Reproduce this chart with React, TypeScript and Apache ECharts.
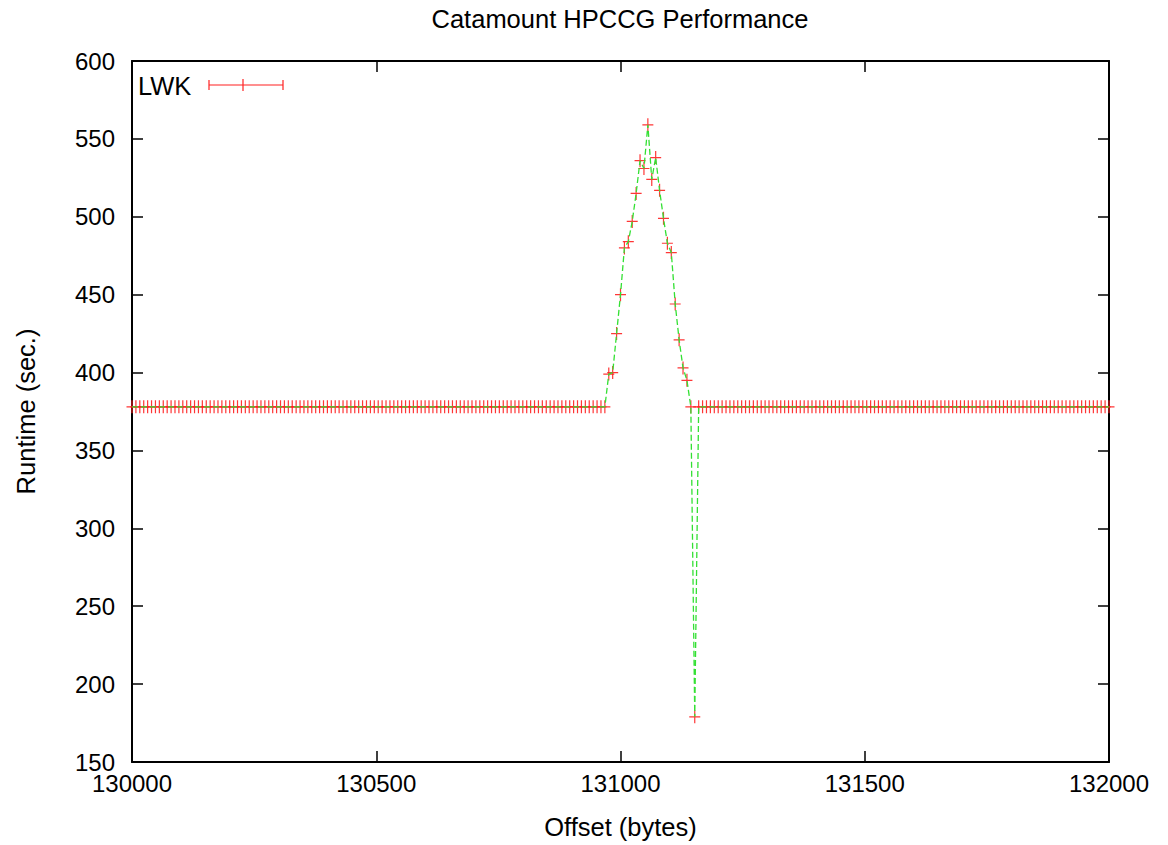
import React, { useEffect, useRef } from "react";
import * as echarts from "echarts";

// ---- data ----
const titleText = "Catamount HPCCG Performance";
const xAxisName = "Offset (bytes)";
const yAxisName = "Runtime (sec.)";
const seriesName = "LWK";

// flat baseline runs: offsets sampled every 8 bytes, runtime read as ~378 s
const baselineRuns = [
  { start: 130000, end: 130968, step: 8, value: 378 },
  { start: 131160, end: 132000, step: 8, value: 378 },
];
const baselineOffsets: number[][] = baselineRuns.map((r) => {
  const xs: number[] = [];
  for (let x = r.start; x <= r.end; x += r.step) xs.push(x);
  return xs;
});

// peak region (individually read points)
const peakOffsets = [
  130976, 130984, 130992, 131000, 131008, 131016, 131024, 131032, 131040,
  131048, 131056, 131064, 131072, 131080, 131088, 131096, 131104, 131112,
  131120, 131128, 131136, 131144, 131152,
];
const peakRuntimes = [
  399, 400, 425, 450, 480, 484, 497, 515, 536, 531, 559, 524, 538, 517, 499,
  483, 477, 444, 421, 403, 395, 378, 179,
];

const xTicks = { min: 130000, max: 132000, interval: 500 };
const yTicks = { min: 150, max: 600, interval: 50 };

export default function App() {
  const ref = useRef<HTMLDivElement>(null);
  useEffect(() => {
    if (!ref.current) return;
    const chart = echarts.init(ref.current, null, { renderer: "svg" });

    const pts: number[][] = [];
    baselineOffsets[0].forEach((x) => pts.push([x, baselineRuns[0].value]));
    peakOffsets.forEach((x, i) => pts.push([x, peakRuntimes[i]]));
    baselineOffsets[1].forEach((x) => pts.push([x, baselineRuns[1].value]));

    const font = "Liberation Sans, Arial, sans-serif";
    const plus = "path://M0,5.9H11V7.1H0Z M4.9,0H6.1V13H4.9Z";

    const left = 132, top = 61, width = 977, height = 701;
    const tickFont = 24;
    const textFont = 25.5;

    chart.setOption({
      animation: false,
      backgroundColor: "#ffffff",
      textStyle: { fontFamily: font },
      grid: { left, top, width, height, containLabel: false },
      xAxis: [
        {
          type: "value",
          min: xTicks.min,
          max: xTicks.max,
          interval: xTicks.interval,
          position: "bottom",
          name: xAxisName,
          nameLocation: "middle",
          nameGap: 52,
          nameTextStyle: { fontSize: textFont, color: "#000", fontFamily: font },
          axisLine: { show: true, onZero: false, lineStyle: { color: "#000", width: 2 } },
          axisTick: { show: true, inside: true, length: 11, lineStyle: { color: "#000", width: 1.5 } },
          axisLabel: {
            fontSize: tickFont,
            lineHeight: 18,
            color: "#000",
            margin: 12,
            fontFamily: font,
            formatter: (v: number) => String(v),
          },
          splitLine: { show: false },
        },
        {
          type: "value",
          min: xTicks.min,
          max: xTicks.max,
          interval: xTicks.interval,
          position: "top",
          axisLine: { show: true, onZero: false, lineStyle: { color: "#000", width: 2 } },
          axisTick: { show: true, inside: true, length: 11, lineStyle: { color: "#000", width: 1.5 } },
          axisLabel: { show: false },
          splitLine: { show: false },
        },
      ],
      yAxis: [
        {
          type: "value",
          min: yTicks.min,
          max: yTicks.max,
          interval: yTicks.interval,
          position: "left",
          name: yAxisName,
          nameLocation: "middle",
          nameGap: 93,
          nameTextStyle: { fontSize: textFont, color: "#000", fontFamily: font },
          axisLine: { show: true, onZero: false, lineStyle: { color: "#000", width: 2 } },
          axisTick: { show: true, inside: true, length: 11, lineStyle: { color: "#000", width: 1.5 } },
          axisLabel: {
            fontSize: tickFont,
            lineHeight: 17,
            color: "#000",
            margin: 17,
            fontFamily: font,
            formatter: (v: number) => String(v),
          },
          splitLine: { show: false },
        },
        {
          type: "value",
          min: yTicks.min,
          max: yTicks.max,
          interval: yTicks.interval,
          position: "right",
          axisLine: { show: true, onZero: false, lineStyle: { color: "#000", width: 2 } },
          axisTick: { show: true, inside: true, length: 11, lineStyle: { color: "#000", width: 1.5 } },
          axisLabel: { show: false },
          splitLine: { show: false },
        },
      ],
      graphic: [
        {
          type: "text",
          x: 620,
          y: 19,
          style: {
            text: titleText,
            fontSize: textFont,
            fontFamily: font,
            fill: "#000",
            align: "center",
            verticalAlign: "middle",
          },
        },
        {
          type: "group",
          x: 0,
          y: 0,
          children: [
            {
              type: "text",
              x: 138,
              y: 86,
              style: {
                text: seriesName,
                fontSize: textFont,
                fontFamily: font,
                fill: "#000",
                align: "left",
                verticalAlign: "middle",
              },
            },
            { type: "line", shape: { x1: 209, y1: 85, x2: 283, y2: 85 }, style: { stroke: "#ff2020", lineWidth: 1.2 } },
            { type: "line", shape: { x1: 209, y1: 80, x2: 209, y2: 90 }, style: { stroke: "#ff2020", lineWidth: 1.2 } },
            { type: "line", shape: { x1: 283, y1: 80, x2: 283, y2: 90 }, style: { stroke: "#ff2020", lineWidth: 1.2 } },
            { type: "line", shape: { x1: 243, y1: 79, x2: 243, y2: 91 }, style: { stroke: "#ff2020", lineWidth: 1.2 } },
          ],
        },
      ],
      series: [
        {
          name: seriesName,
          type: "scatter",
          xAxisIndex: 0,
          yAxisIndex: 0,
          data: pts,
          symbol: plus,
          symbolSize: [11, 13],
          itemStyle: { color: "#ff2020", opacity: 0.9 },
          z: 2,
        },
        {
          name: seriesName + " line",
          type: "line",
          xAxisIndex: 0,
          yAxisIndex: 0,
          data: pts,
          showSymbol: false,
          symbol: "none",
          lineStyle: { color: "#33e033", width: 1.3, type: [6, 3] },
          z: 3,
        },
      ],
    });
    return () => chart.dispose();
  }, []);
  return (
    <div
      ref={ref}
      style={{ position: "fixed", left: 0, top: 0, width: 1168, height: 845, background: "#fff" }}
    />
  );
}
